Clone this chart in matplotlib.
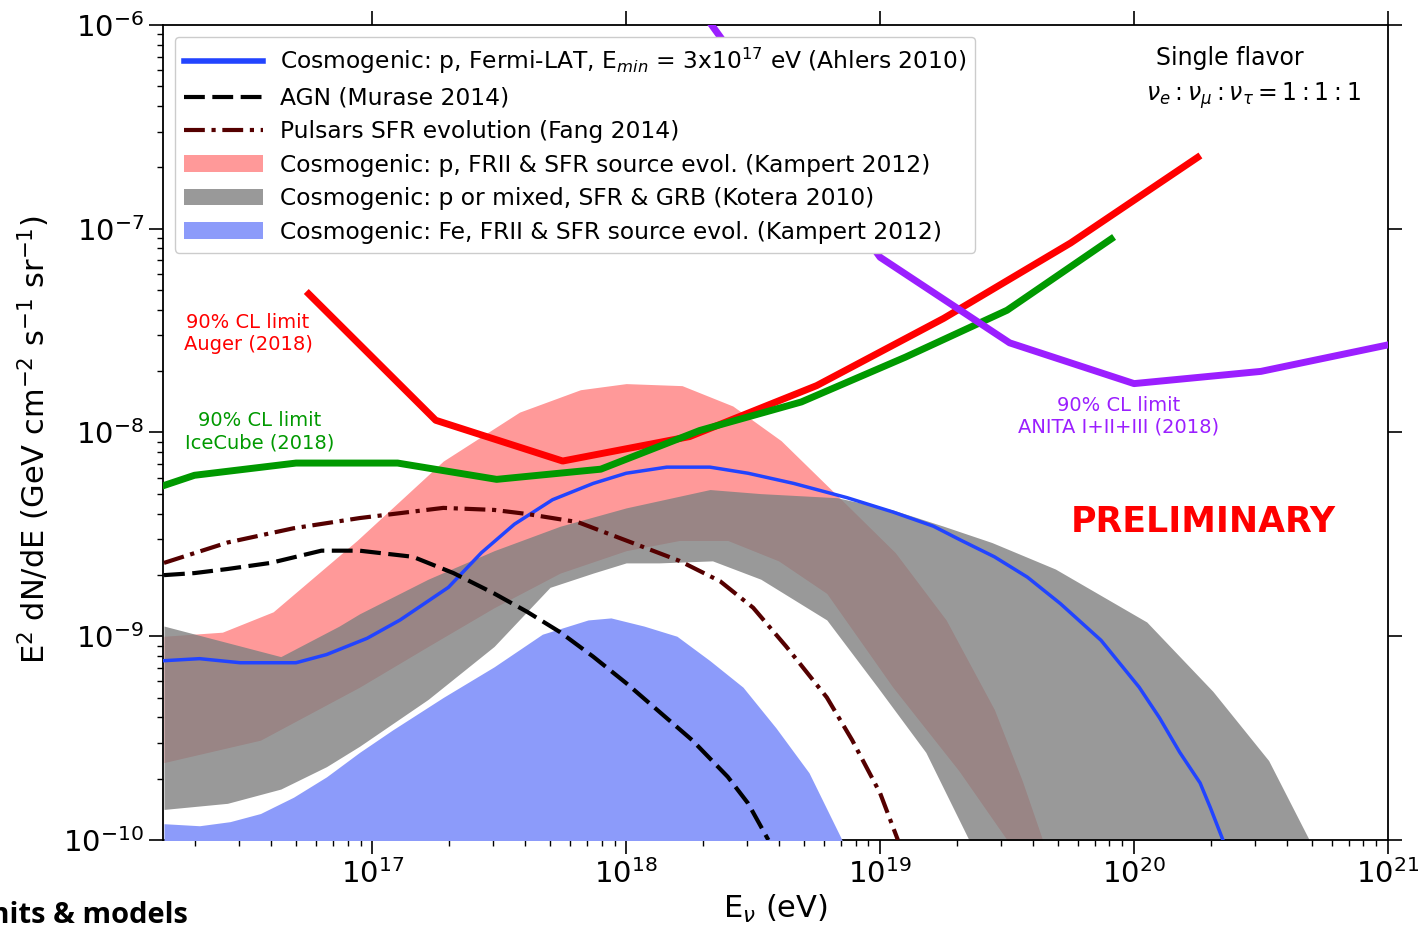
import numpy as np
import matplotlib.pyplot as plt

# energies and fluxes stored as log10 values (eV, GeV cm^-2 s^-1 sr^-1)

# 90% CL limits
auger_logE = [16.75, 17.25, 17.75, 18.25, 18.75, 19.25, 19.75, 20.25]
auger_logF = [-7.32, -7.94, -8.14, -8.02, -7.77, -7.44, -7.07, -6.65]

icecube_logE = [16.18, 16.30, 16.70, 17.10, 17.49, 17.90, 18.29, 18.69, 19.10, 19.50, 19.91]
icecube_logF = [-8.26, -8.21, -8.15, -8.15, -8.23, -8.18, -7.99, -7.85, -7.63, -7.40, -7.05]

anita_logE = [18.29, 19.00, 19.51, 20.00, 20.50, 21.00]
anita_logF = [-5.92, -7.14, -7.56, -7.76, -7.70, -7.57]

# models
ahlers_logE = [16.18, 16.32, 16.48, 16.70, 16.82, 16.98, 17.11, 17.30, 17.43, 17.56,
               17.71, 17.87, 18.00, 18.16, 18.33, 18.48, 18.66, 18.87, 19.05, 19.21,
               19.32, 19.45, 19.58, 19.71, 19.87, 20.02, 20.10, 20.18, 20.26, 20.30, 20.35]
ahlers_logF = [-9.12, -9.11, -9.13, -9.13, -9.09, -9.01, -8.92, -8.76, -8.59, -8.45,
               -8.33, -8.25, -8.20, -8.17, -8.17, -8.20, -8.25, -8.32, -8.39, -8.46,
               -8.53, -8.61, -8.71, -8.84, -9.02, -9.25, -9.40, -9.57, -9.72, -9.84, -10.0]

agn_logE = [16.18, 16.30, 16.43, 16.60, 16.80, 16.95, 17.16, 17.32, 17.48, 17.61,
            17.74, 17.87, 18.00, 18.13, 18.26, 18.40, 18.48, 18.56]
agn_logF = [-8.70, -8.69, -8.67, -8.64, -8.58, -8.58, -8.61, -8.69, -8.79, -8.88,
            -8.98, -9.10, -9.23, -9.37, -9.51, -9.69, -9.82, -10.0]

pulsar_logE = [16.18, 16.43, 16.69, 16.95, 17.28, 17.48, 17.61, 17.81, 18.00, 18.21,
               18.37, 18.50, 18.63, 18.79, 18.89, 19.00, 19.07]
pulsar_logF = [-8.64, -8.54, -8.47, -8.42, -8.37, -8.38, -8.40, -8.44, -8.53, -8.63,
               -8.73, -8.86, -9.05, -9.30, -9.51, -9.77, -10.0]

# bands (upper / lower edges)
kampert_p_up_logE = [16.18, 16.41, 16.61, 16.94, 17.28, 17.58, 17.82, 18.00, 18.22,
                     18.42, 18.61, 18.84, 19.06, 19.26, 19.45, 19.56, 19.64]
kampert_p_up_logF = [-9.00, -8.98, -8.88, -8.53, -8.14, -7.90, -7.79, -7.76, -7.77,
                     -7.87, -8.04, -8.32, -8.59, -8.92, -9.36, -9.71, -10.0]
kampert_p_lo_logE = [16.18, 16.56, 16.95, 17.22, 17.48, 17.74, 18.00, 18.21, 18.40,
                     18.60, 18.79, 19.05, 19.31, 19.50]
kampert_p_lo_logF = [-9.62, -9.51, -9.25, -9.05, -8.86, -8.69, -8.58, -8.53, -8.53,
                     -8.63, -8.79, -9.25, -9.66, -10.0]

kotera_up_logE = [16.18, 16.64, 16.87, 16.95, 17.22, 17.48, 17.74, 18.00, 18.33, 18.53,
                  18.83, 19.05, 19.25, 19.44, 19.69, 20.05, 20.31, 20.53, 20.69]
kotera_up_logF = [-8.95, -9.10, -8.95, -8.89, -8.72, -8.58, -8.46, -8.37, -8.28, -8.30,
                  -8.32, -8.38, -8.46, -8.54, -8.67, -8.93, -9.27, -9.61, -10.0]
kotera_lo_logE = [16.18, 16.43, 16.64, 16.82, 16.95, 17.22, 17.48, 17.70, 17.87, 18.00,
                  18.13, 18.34, 18.53, 18.79, 18.99, 19.18, 19.35]
kotera_lo_logF = [-9.85, -9.82, -9.75, -9.64, -9.54, -9.31, -9.05, -8.76, -8.69, -8.64,
                  -8.64, -8.63, -8.72, -8.92, -9.25, -9.57, -10.0]

kampert_fe_logE = [16.18, 16.32, 16.44, 16.56, 16.69, 16.82, 16.95, 17.08, 17.28, 17.48,
                   17.67, 17.85, 17.94, 18.07, 18.20, 18.33, 18.46, 18.59, 18.72, 18.85]
kampert_fe_logF = [-9.92, -9.93, -9.91, -9.87, -9.79, -9.69, -9.57, -9.46, -9.30, -9.15,
                   -8.99, -8.92, -8.91, -8.95, -9.00, -9.12, -9.25, -9.45, -9.67, -10.0]


def pw(v):
    return 10.0 ** np.asarray(v)


def band(ax, lo_x, lo_y, up_x, up_y, **kw):
    # union of both edge grids so the two sides can be filled together
    grid = np.union1d(lo_x, up_x)
    lo = np.interp(grid, lo_x, lo_y, right=-12.0)
    up = np.interp(grid, up_x, up_y, right=-12.0)
    return ax.fill_between(pw(grid), pw(lo), pw(up), linewidth=0, **kw)


fig = plt.figure(figsize=(14.22, 9.30), dpi=100)
ax = fig.add_axes([163 / 1422, 90 / 930, 1225 / 1422, 815 / 930])

band(ax, kampert_p_lo_logE, kampert_p_lo_logF, kampert_p_up_logE, kampert_p_up_logF,
     color='red', alpha=0.4, label='Cosmogenic: p, FRII & SFR source evol. (Kampert 2012)', zorder=1)
band(ax, kotera_lo_logE, kotera_lo_logF, kotera_up_logE, kotera_up_logF,
     color='gray', alpha=0.8, label='Cosmogenic: p or mixed, SFR & GRB (Kotera 2010)', zorder=2)
ax.fill_between(pw(kampert_fe_logE), 1e-12, pw(kampert_fe_logF), color='#8c9bfa', linewidth=0,
                label='Cosmogenic: Fe, FRII & SFR source evol. (Kampert 2012)', zorder=3)

ax.plot(pw(ahlers_logE), pw(ahlers_logF), color='#2244ff', lw=2.5, zorder=5,
        label=r'Cosmogenic: p, Fermi-LAT, E$_{min}$ = 3x10$^{17}$ eV (Ahlers 2010)')
ax.plot(pw(agn_logE), pw(agn_logF), color='black', lw=3, ls=(0, (5, 1.8)), zorder=5,
        label='AGN (Murase 2014)')
ax.plot(pw(pulsar_logE), pw(pulsar_logF), color='#550000', lw=3, ls=(0, (5, 1.6, 1, 1.6)), zorder=5,
        label='Pulsars SFR evolution (Fang 2014)')

ax.plot(pw(auger_logE), pw(auger_logF), color='red', lw=5, zorder=6)
ax.plot(pw(icecube_logE), pw(icecube_logF), color='#009900', lw=5, zorder=6)
ax.plot(pw(anita_logE), pw(anita_logF), color='#9b1fff', lw=5, zorder=6)

ax.set_xscale('log')
ax.set_yscale('log')
ax.set_xlim(1.5e16, 1e21)
ax.set_ylim(1e-10, 1e-6)

ax.tick_params(which='both', direction='out', labelsize=21)
ax.tick_params(which='major', length=10, width=1.2, top=True, right=True)
ax.tick_params(which='minor', length=4, width=1, top=False, right=False)
for s in ax.spines.values():
    s.set_linewidth(1.3)

ax.set_xlabel(r'E$_\nu$ (eV)', fontsize=22, labelpad=3)
ax.set_ylabel(r'E$^2$ dN/dE (GeV cm$^{-2}$ s$^{-1}$ sr$^{-1}$)', fontsize=22)
ax.yaxis.set_label_coords(-0.0906, 0.491)

# legend order: lines first, then bands
h, l = ax.get_legend_handles_labels()
order = [3, 4, 5, 0, 1, 2]
leg = ax.legend([h[i] for i in order], [l[i] for i in order], loc='upper left',
                fontsize=16.8, handlelength=3.4, handletextpad=0.7, labelspacing=0.45,
                borderaxespad=0.5, framealpha=1.0)
leg.get_lines()[0].set_linewidth(4)
leg.set_zorder(10)

ax.text(0.0694, 0.621, '90% CL limit\nAuger (2018)', color='red', fontsize=14,
        ha='center', va='center', transform=ax.transAxes)
ax.text(0.0792, 0.501, '90% CL limit\nIceCube (2018)', color='#009900', fontsize=14,
        ha='center', va='center', transform=ax.transAxes)
ax.text(0.7804, 0.520, '90% CL limit\nANITA I+II+III (2018)', color='#9b1fff', fontsize=14,
        ha='center', va='center', transform=ax.transAxes)

ax.text(0.871, 0.96, 'Single flavor', fontsize=17, ha='center', va='center', transform=ax.transAxes)
ax.text(0.89, 0.913, r'$\nu_e:\nu_\mu:\nu_\tau = 1:1:1$', fontsize=17, ha='center', va='center',
        transform=ax.transAxes)
ax.text(0.849, 0.39, 'PRELIMINARY', color='red', fontsize=25, fontweight='bold',
        ha='center', va='center', transform=ax.transAxes)

fig.text(188 / 1422, 0.0, 'limits & models', fontsize=21, fontweight='bold',
         family=['Open Sans', 'DejaVu Sans'], ha='right', va='bottom')

fig.savefig('out.png', dpi=100)
